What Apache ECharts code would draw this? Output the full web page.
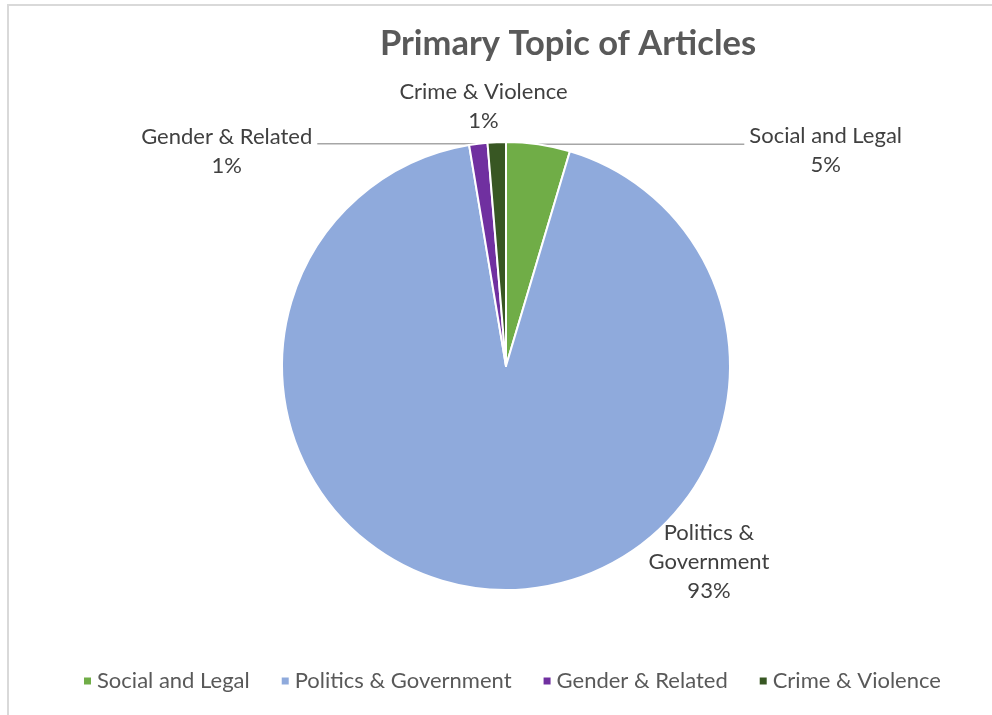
<!DOCTYPE html>
<html>
<head>
<meta charset="utf-8">
<script src="https://cdn.jsdelivr.net/npm/echarts@6/dist/echarts.min.js"></script>
<style>
  html, body { margin: 0; padding: 0; background: #fff; overflow: hidden; }
  #frame { position: absolute; left: 7px; top: 4px; width: 1000px; height: 720px;
           border-left: 2px solid #d9d9d9; border-top: 2px solid #d9d9d9; }
  #chart { position: absolute; left: 0; top: 0; width: 992px; height: 715px; }
</style>
</head>
<body>
<div id="frame"></div>
<div id="chart"></div>
<script>
// Article counts by primary topic
const categories = ['Social and Legal', 'Politics & Government', 'Gender & Related', 'Crime & Violence'];
const labelNames = ['Social and Legal', 'Politics &\nGovernment', 'Gender & Related', 'Crime & Violence'];
const articleCounts = [7, 141, 2, 2];
const sliceColors = ['#70AD47', '#8FAADC', '#7030A0', '#385723'];

const FONT = 'Lato, "Open Sans", sans-serif';

const pieData = categories.map((name, i) => ({
  name: name,
  value: articleCounts[i],
  itemStyle: { color: sliceColors[i] },
  labelLine: { show: i === 0 || i === 2 }
}));

const chart = echarts.init(document.getElementById('chart'), null, { renderer: 'canvas' });

chart.setOption({
  animation: false,
  title: {
    text: 'Primary Topic of Articles',
    left: 568,
    textAlign: 'center',
    top: 21,
    padding: [5, 0, 5, 0],
    textStyle: { fontFamily: FONT, fontSize: 34.5, fontWeight: 'bold', color: '#595959' }
  },
  legend: {
    data: categories,
    left: 77,
    top: 665,
    icon: 'rect',
    itemWidth: 9,
    itemHeight: 9,
    itemGap: 30,
    selectedMode: false,
    textStyle: { fontFamily: FONT, fontSize: 22, color: '#595959' }
  },
  series: [{
    type: 'pie',
    center: [506, 366],
    radius: 224,
    startAngle: 90,
    clockwise: true,
    percentPrecision: 0,
    avoidLabelOverlap: false,
    data: pieData,
    itemStyle: { borderColor: '#ffffff', borderWidth: 2 },
    emphasis: { disabled: true },
    label: {
      show: true,
      position: 'outside',
      alignTo: 'none',
      fontFamily: FONT,
      color: '#404040',
      formatter: function (p) {
        const lines = labelNames[p.dataIndex].split('\n');
        lines.push(p.percent + '%');
        return lines.map(s => '{c|' + s + '}').join('\n');
      },
      rich: {
        c: { align: 'center', fontFamily: FONT, fontSize: 22, lineHeight: 29, color: '#404040' }
      }
    },
    labelLine: {
      show: true,
      length: 0,
      length2: 20,
      lineStyle: { color: '#A6A6A6', width: 1.5 }
    },
    labelLayout: function (p) {
      const i = p.dataIndex;
      const r = p.rect;
      if (i === 0) {
        const e = p.labelLinePoints[0];
        const x = e[0] + 211;
        return {
          x: x, y: e[1] - 23, align: 'left', verticalAlign: 'top',
          labelLinePoints: [e, [x - 5, e[1]], [x - 5, e[1]]]
        };
      }
      if (i === 2) {
        const e = p.labelLinePoints[0];
        const x = e[0] - 166;
        return {
          x: x, y: e[1] - 21, align: 'right', verticalAlign: 'top',
          labelLinePoints: [e, [x + 5, e[1]], [x + 5, e[1]]]
        };
      }
      if (i === 3) {
        return { x: r.x - 3, y: r.y - 6, align: 'center', verticalAlign: 'bottom' };
      }
      return {
        x: r.x + r.width * 0.951, y: r.y + r.height * 0.935,
        align: 'center', verticalAlign: 'middle'
      };
    }
  }]
});
</script>
</body>
</html>
